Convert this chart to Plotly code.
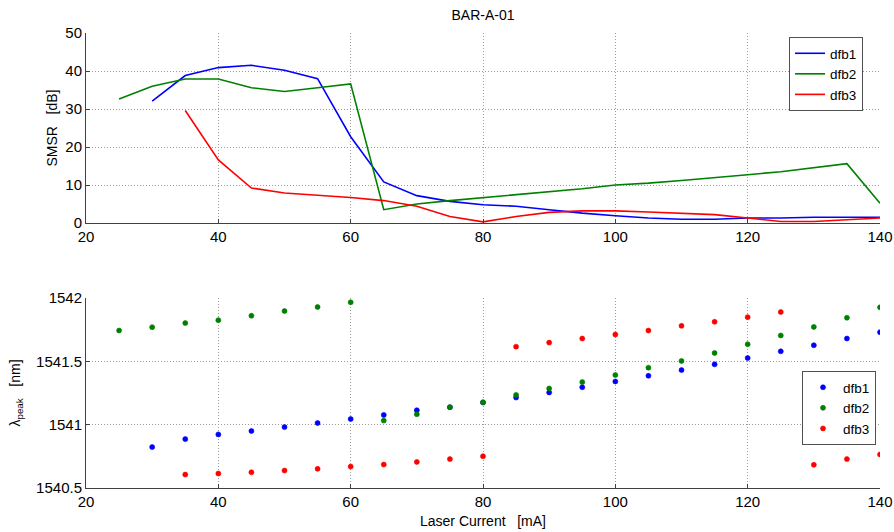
import plotly.graph_objects as go

# Laser current sweep (mA) per DFB section
current_dfb1 = [30, 35, 40, 45, 50, 55, 60, 65, 70, 75, 80, 85, 90, 95, 100, 105, 110, 115, 120, 125, 130, 135, 140]
current_dfb2 = [25, 30, 35, 40, 45, 50, 55, 60, 65, 70, 75, 80, 85, 90, 95, 100, 105, 110, 115, 120, 125, 130, 135, 140]
current_dfb3 = [35, 40, 45, 50, 55, 60, 65, 70, 75, 80, 85, 90, 95, 100, 105, 110, 115, 120, 125, 130, 135, 140]

# Side-mode suppression ratio (dB)
smsr_dfb1 = [32.1, 38.8, 40.9, 41.5, 40.2, 38.0, 22.7, 10.8, 7.2, 5.7, 4.8, 4.4, 3.5, 2.6, 1.9, 1.3, 1.0, 1.0, 1.3, 1.3, 1.5, 1.5, 1.5]
smsr_dfb2 = [32.6, 36.0, 37.9, 37.9, 35.6, 34.6, 35.6, 36.6, 3.5, 5.0, 5.9, 6.7, 7.5, 8.2, 9.0, 10.0, 10.5, 11.2, 11.9, 12.7, 13.5, 14.5, 15.6, 5.2]
smsr_dfb3 = [29.6, 16.6, 9.2, 7.9, 7.3, 6.7, 5.9, 4.4, 1.7, 0.3, 1.7, 2.8, 3.2, 3.2, 2.9, 2.6, 2.2, 1.3, 0.4, 0.4, 0.9, 1.3]

# Peak wavelength (nm)
lam_dfb1 = [1540.823, 1540.886, 1540.923, 1540.950, 1540.981, 1541.013, 1541.045, 1541.077, 1541.114, 1541.138,
            1541.175, 1541.214, 1541.254, 1541.296, 1541.341, 1541.386, 1541.431, 1541.476, 1541.526, 1541.579,
            1541.627, 1541.680, 1541.730]
lam_dfb2 = [1541.743, 1541.770, 1541.802, 1541.825, 1541.860, 1541.897, 1541.929, 1541.966, 1541.032, 1541.082,
            1541.138, 1541.177, 1541.235, 1541.286, 1541.336, 1541.392, 1541.450, 1541.503, 1541.566, 1541.635,
            1541.704, 1541.772, 1541.844, 1541.926]
lam_dfb3 = [1540.606, 1540.614, 1540.624, 1540.638, 1540.651, 1540.669, 1540.685, 1540.706, 1540.728, 1540.751,
            1541.616, 1541.648, 1541.680, 1541.712, 1541.743, 1541.780, 1541.812, 1541.849, 1541.889, 1540.683,
            1540.728, 1540.765]

names = ["dfb1", "dfb2", "dfb3"]
colors = ["#0000ff", "#008000", "#ff0000"]
currents = [current_dfb1, current_dfb2, current_dfb3]
smsr = [smsr_dfb1, smsr_dfb2, smsr_dfb3]
lam = [lam_dfb1, lam_dfb2, lam_dfb3]

FONT = "Liberation Sans, Arial, sans-serif"
W, H = 894, 532

fig = go.Figure()

for n, c, x, y in zip(names, colors, currents, smsr):
    fig.add_trace(go.Scatter(x=x, y=y, mode="lines", name=n, line=dict(color=c, width=1.6),
                             xaxis="x", yaxis="y", legend="legend"))

for n, c, x, y in zip(names, colors, currents, lam):
    fig.add_trace(go.Scatter(x=x, y=y, mode="markers", name=n,
                             marker=dict(color=c, size=5, line=dict(color=c, width=0.6)),
                             xaxis="x2", yaxis="y2", legend="legend2"))

axis_common = dict(
    showline=True, linecolor="#404040", linewidth=1,
    showgrid=True, gridcolor="#9a9a9a", griddash="1px,2px", gridwidth=1,
    ticks="inside", ticklen=4, tickcolor="#404040",
    zeroline=False, mirror=False, automargin=False,
    tickfont=dict(family=FONT, size=15, color="#000000"),
)

xdom = [86 / W, 880 / W]
legend_common = dict(bgcolor="white", bordercolor="#505050", borderwidth=1,
                     font=dict(family=FONT, size=13.5), tracegroupgap=0, itemwidth=30)

fig.update_layout(
    width=W, height=H,
    margin=dict(l=0, r=0, t=0, b=0),
    paper_bgcolor="white", plot_bgcolor="white",
    font=dict(family=FONT, size=14, color="#000000"),
    title=dict(text="BAR-A-01", x=483 / W, xanchor="center", y=1 - 15 / H, yanchor="middle",
               font=dict(family=FONT, size=14, color="#000000")),
    xaxis=dict(domain=xdom, range=[20, 140], dtick=20, anchor="y", **axis_common),
    yaxis=dict(domain=[(H - 223) / H, (H - 33) / H], range=[0, 50], dtick=10, anchor="x",
               title=dict(text="SMSR\u00a0\u00a0\u00a0[dB]", standoff=4,
                          font=dict(family=FONT, size=14)), **axis_common),
    xaxis2=dict(domain=xdom, range=[20, 140], dtick=20, anchor="y2",
                title=dict(text="Laser Current\u00a0\u00a0\u00a0[mA]", standoff=7,
                           font=dict(family=FONT, size=14)), **axis_common),
    yaxis2=dict(domain=[(H - 488) / H, (H - 298) / H], range=[1540.5, 1542], dtick=0.5, anchor="x2",
                tickformat="~r",
                title=dict(text="λ<sub>peak</sub>\u00a0\u00a0\u00a0[nm]", standoff=12,
                           font=dict(family=FONT, size=14)), **axis_common),
    legend=dict(x=863 / W, xanchor="right", y=1 - 37 / H, yanchor="top", **legend_common),
    legend2=dict(x=876 / W, xanchor="right", y=1 - 371 / H, yanchor="top", **legend_common),
)

fig.write_html("out.html")
